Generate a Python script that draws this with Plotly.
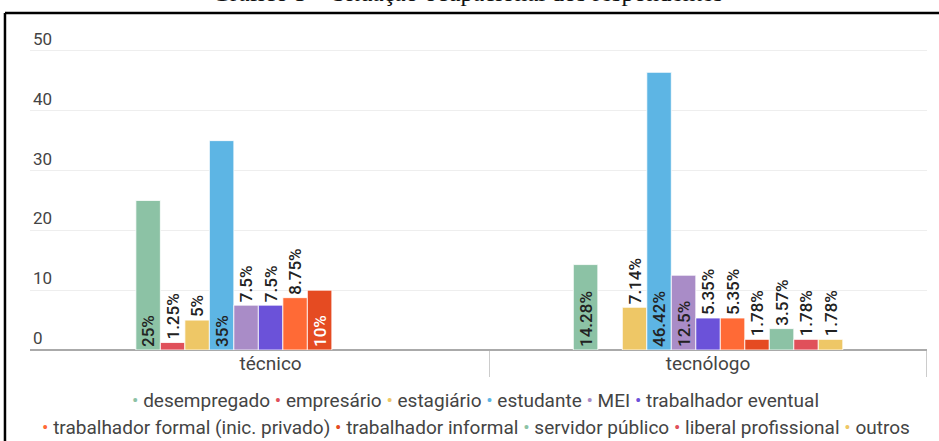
import plotly.graph_objects as go

categories = ["técnico", "tecnólogo"]
series = [
    "desempregado", "empresário", "estagiário", "estudante", "MEI",
    "trabalhador eventual", "trabalhador formal (inic. privado)",
    "trabalhador informal", "servidor público", "liberal profissional", "outros",
]
tecnico = [25, 1.25, 5, 35, 7.5, 7.5, 8.75, 10, 0, 0, 0]
tecnologo = [14.28, 0, 7.14, 46.42, 12.5, 5.35, 5.35, 1.78, 3.57, 1.78, 1.78]
y_ticks = [0, 10, 20, 30, 40, 50]
title_text = "Gráfico 5 – Situação ocupacional dos respondentes"

colors = ["#8CC2A5", "#E0505A", "#EEC766", "#5DB5E4", "#A98CC7", "#6B52D9",
          "#FF6A36", "#E54B22", "#8CC2A5", "#E0505A", "#EEC766"]
inside_colors = ["#222"] * 7 + ["white"] + ["#222"] * 3

FONT = "Roboto"
cat_pos = list(range(len(categories)))
boundaries = [p - 0.5 for p in cat_pos] + [cat_pos[-1] + 0.5]

fig = go.Figure()
for i, name in enumerate(series):
    vals = [tecnico[i], tecnologo[i]]
    shown = [v if v else None for v in vals]
    texts = [f"{v:g}%" if v else "" for v in vals]
    pos = ["inside" if v >= 10 else "outside" for v in vals]
    fig.add_trace(go.Bar(
        x=cat_pos, y=shown, name=name, text=texts, textposition=pos,
        textangle=-90, insidetextanchor="start", constraintext="none",
        insidetextfont=dict(family=FONT, size=17, color=inside_colors[i], weight=500),
        outsidetextfont=dict(family=FONT, size=17, color="#222", weight=500),
        marker=dict(color=colors[i], line=dict(color="rgba(255,255,255,0.8)", width=1)),
        cliponaxis=False, showlegend=False,
    ))

# plot area: bottom at 350px, top at 21px (329 px high)
rows = [list(range(0, 6)), list(range(6, 11))]
row_y = [-0.152, -0.237]
for r, idxs in zip(row_y, rows):
    txt = " ".join(f"<span style='color:{colors[k]}'>•</span> {series[k]}" for k in idxs)
    fig.add_annotation(x=0.497, y=r, xref="paper", yref="paper", text=txt,
                       showarrow=False, xanchor="center", yanchor="middle",
                       font=dict(family=FONT, size=19, color="#444"))

fig.add_annotation(x=0.488, y=1, xref="paper", yref="paper", text=title_text,
                   showarrow=False, xanchor="center", yanchor="bottom", yshift=13,
                   font=dict(family="Liberation Serif", size=25, color="#111"))

# frame
fig.add_shape(type="line", xref="paper", yref="paper", x0=-0.0279, x1=1.02,
              y0=1.0243, y1=1.0243, line=dict(color="black", width=2.5))
fig.add_shape(type="line", xref="paper", yref="paper", x0=-0.0279, x1=-0.0279,
              y0=1.0243, y1=-0.3, line=dict(color="black", width=2.5))

fig.update_layout(
    width=939, height=441,
    margin=dict(l=30, r=12, t=21, b=91),
    paper_bgcolor="white", plot_bgcolor="white",
    barmode="group", bargap=0.384, bargroupgap=0,
    font=dict(family=FONT, color="#444"),
)
fig.update_xaxes(
    range=[-0.55, 1.5005], showgrid=False, showline=False, zeroline=False,
    tickvals=cat_pos, ticktext=categories, ticks="",
    minor=dict(tickvals=boundaries, ticks="outside", ticklen=26,
               tickcolor="#cccccc", tickwidth=1, showgrid=False),
    tickfont=dict(family=FONT, size=19, color="#444"),
)
fig.update_yaxes(
    range=[0, 55], tickvals=y_ticks, showgrid=True, gridcolor="#eeeeee",
    zeroline=True, zerolinecolor="#aaaaaa", zerolinewidth=2,
    ticklabelposition="inside top", ticks="",
    tickfont=dict(family=FONT, size=17, color="#444"),
)

fig.write_html("out.html", config={"displayModeBar": False},
               post_script="document.body.style.margin='0';")
